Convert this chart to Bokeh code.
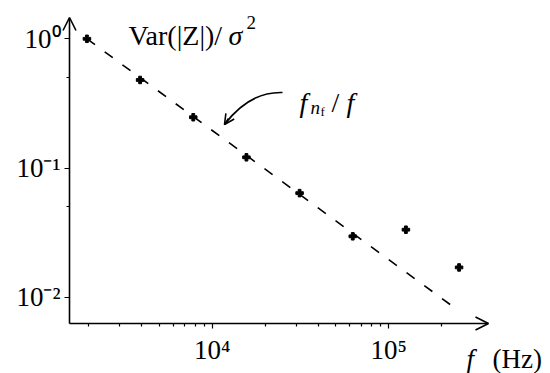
import math
from bokeh.plotting import figure
from bokeh.models import FixedTicker, Arrow, OpenHead, Label, Range1d, ColumnDataSource
from bokeh.embed import file_html
from bokeh.resources import INLINE

# ---- data ----
freq = [1953, 3906, 7812, 15625, 31250, 62500, 125000, 250000]
var_norm = [1.0, 0.48, 0.247, 0.121, 0.0639, 0.0296, 0.0333, 0.0170]
f_nf = 1953
fit_f = [1953, 248000]
x_major = [1e4, 1e5]
x_major_labels = ["10⁴", "10⁵"]
x_minor = [2e3, 3e3, 4e3, 5e3, 6e3, 7e3, 8e3, 9e3,
           2e4, 3e4, 4e4, 5e4, 6e4, 7e4, 8e4, 9e4, 2e5]
y_major = [1e-2, 1e-1, 1.0]
y_major_labels = ["10⁻²", "10⁻¹", "10⁰"]
y_minor = [5e-2, 5e-1]

# ---- geometry (canvas pixels) ----
W, H = 550, 373
AX_L, AX_R, AX_T, AX_B = 69, 488, 17, 323      # axis origin / arrow tips
X_DEC_PX, X_1E4_PX = 176.6, 211.7
Y_DEC_PX, Y_1E0_PX = 129.2, 38.3

def dx(px):
    return 10 ** (4 + (px - X_1E4_PX) / X_DEC_PX)

def dy(py):
    return 10 ** (-(py - Y_1E0_PX) / Y_DEC_PX)

def at(px, py):
    return dx(px), dy(py)

FONT = "Liberation Serif"

p = figure(width=W, height=H, x_axis_type="log", y_axis_type="log",
           x_range=Range1d(dx(0), dx(W)), y_range=Range1d(dy(H), dy(0)),
           output_backend="svg", toolbar_location=None, title=None,
           min_border=0)
p.outline_line_color = None
p.grid.visible = False
p.background_fill_color = "white"
p.border_fill_color = "white"

x0, y0 = dx(AX_L), dy(AX_B)
p.xaxis[0].fixed_location = y0
p.yaxis[0].fixed_location = x0

for ax, maj, mn, labs in ((p.xaxis[0], x_major, x_minor, x_major_labels),
                          (p.yaxis[0], y_major, y_minor, y_major_labels)):
    ax.ticker = FixedTicker(ticks=maj, minor_ticks=mn)
    ax.major_label_overrides = {t: l for t, l in zip(maj, labs)}
    ax.axis_line_color = None
    ax.major_tick_line_color = "black"
    ax.minor_tick_line_color = "black"
    ax.major_tick_line_width = 1.2
    ax.minor_tick_line_width = 1.2
    ax.major_tick_in = 0
    ax.minor_tick_in = 0
    ax.major_tick_out = 5
    ax.minor_tick_out = 3
    ax.major_label_text_font = FONT
    ax.major_label_text_font_size = "27px"
    ax.major_label_text_color = "black"
p.xaxis.major_label_standoff = 6
p.yaxis.major_label_standoff = 4

# axis arrows
p.add_layout(Arrow(x_start=x0, y_start=y0, x_end=dx(AX_R), y_end=y0,
                   line_width=1.6, end=OpenHead(size=13, line_width=1.6)))
p.add_layout(Arrow(x_start=x0, y_start=y0, x_end=x0, y_end=dy(AX_T),
                   line_width=1.6, end=OpenHead(size=13, line_width=1.6)))

# fit line
p.line(fit_f, [f_nf / f for f in fit_f], line_color="black", line_width=1.6,
       line_dash="10 12")

# data points
src = ColumnDataSource(dict(f=freq, v=var_norm))
p.scatter("f", "v", source=src, marker="plus", size=7.5, color="black")

# curved arrow annotation
sx, sy = at(282, 92)
cx, cy = at(249, 91)
ex, ey = at(224, 124)
p.quadratic(x0=[sx], y0=[sy], x1=[ex], y1=[ey], cx=[cx], cy=[cy],
            line_color="black", line_width=1.6)
bx, by = at(228, 118)
p.add_layout(Arrow(x_start=bx, y_start=by, x_end=ex, y_end=ey, line_width=1.6,
                   end=OpenHead(size=10, line_width=1.6)))

def lab(text, px, py, size, style="normal"):
    x, y = at(px, py)
    p.add_layout(Label(x=x, y=y, text=text, text_font=FONT, text_font_size=size,
                       text_font_style=style, text_color="black",
                       text_baseline="alphabetic", text_align="left"))

# y label
lab("Var(|Z|)/", 128, 35, "28px")
lab("σ", 228, 35, "28px", "italic")
lab("2", 246, 22, "19px")
# fit label
lab("f", 299, 102, "28px", "italic")
lab("n", 310, 107, "19px", "italic")
lab("f", 320, 111, "13px")
lab("/", 331, 102, "28px")
lab("f", 346, 102, "28px", "italic")
# x label
lab("f", 466, 358, "27px", "italic")
lab("(Hz)", 492, 358, "27px")

open("out.html", "w").write(file_html(p, INLINE))
